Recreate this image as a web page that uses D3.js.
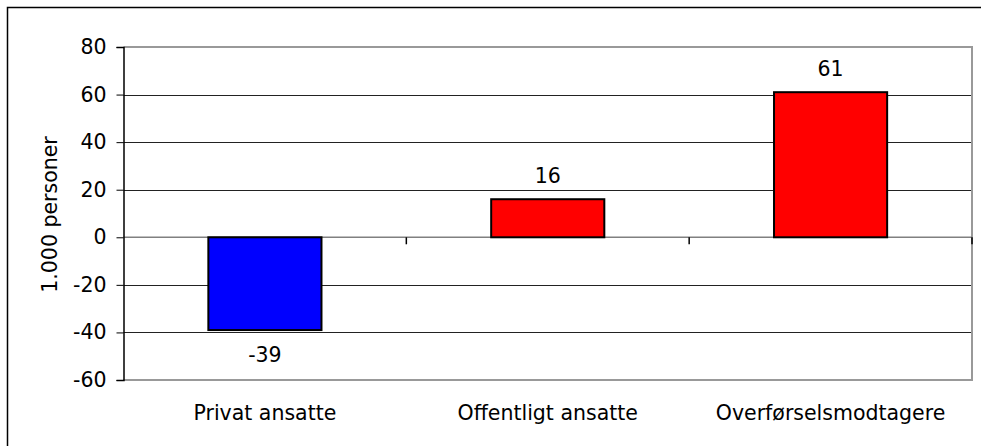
<!DOCTYPE html>
<html>
<head>
<meta charset="utf-8">
<script src="https://cdn.jsdelivr.net/npm/d3@7"></script>
<style>
  html, body { margin: 0; padding: 0; background: #fff; }
  svg { display: block; }
  text { font-family: "DejaVu Sans", Verdana, sans-serif; fill: #000; }
</style>
</head>
<body>
<svg id="chart" width="981" height="446"></svg>
<script>
const categories = ["Privat ansatte", "Offentligt ansatte", "Overførselsmodtagere"];
const values = [-39, 16, 61];
const barColors = ["#0000FF", "#FF0000", "#FF0000"];
const yTicks = [-60, -40, -20, 0, 20, 40, 60, 80];
const yTitle = "1.000 personer";

(function () {
const svg = d3.select("#chart");
const plotLeft = 123.5, plotRight = 972, plotTop = 47, plotBottom = 380;
const fontSize = 20.5;

// outer frame
svg.append("rect")
  .attr("x", 7.5).attr("y", 7.5)
  .attr("width", 1000).attr("height", 1000)
  .attr("fill", "#fff").attr("stroke", "#000").attr("stroke-width", 1.5);

const y = d3.scaleLinear().domain([-60, 80]).range([plotBottom, plotTop]);
const x = d3.scaleBand().domain(categories).range([plotLeft, plotRight])
  .paddingInner(0.6).paddingOuter(0.3);

// gridlines
svg.append("g").selectAll("line")
  .data(yTicks.filter(t => t !== 80 && t !== -60 && t !== 0))
  .join("line")
  .attr("x1", plotLeft).attr("x2", plotRight)
  .attr("y1", d => Math.round(y(d)) + 0.5).attr("y2", d => Math.round(y(d)) + 0.5)
  .attr("stroke", "#222").attr("stroke-width", 1);

// plot frame (grey top, right, bottom)
svg.append("path")
  .attr("d", `M${plotLeft},${y(80)}H${plotRight}V${y(-60)}H${plotLeft}`)
  .attr("fill", "none").attr("stroke", "#999").attr("stroke-width", 2);

// zero line
svg.append("line")
  .attr("x1", plotLeft).attr("x2", plotRight)
  .attr("y1", y(0)).attr("y2", y(0))
  .attr("stroke", "#808080").attr("stroke-width", 1.5);

// bars
svg.append("g").selectAll("rect")
  .data(values)
  .join("rect")
  .attr("x", (d, i) => x(categories[i]))
  .attr("width", x.bandwidth())
  .attr("y", d => y(Math.max(0, d)))
  .attr("height", d => Math.abs(y(d) - y(0)))
  .attr("fill", (d, i) => barColors[i])
  .attr("stroke", "#000").attr("stroke-width", 2);

// y axis
const yAxis = d3.axisLeft(y).tickValues(yTicks).tickSize(7).tickPadding(10)
  .tickFormat(d => String(d));
const ga = svg.append("g").attr("transform", `translate(${plotLeft},0)`).call(yAxis);
ga.select(".domain").attr("stroke", "#000").attr("stroke-width", 1.5);
ga.selectAll(".tick line").attr("stroke", "#000");
ga.selectAll(".tick text")
  .style("font-family", '"DejaVu Sans", Verdana, sans-serif')
  .attr("font-size", fontSize).attr("fill", "#000");

// x axis ticks at category boundaries on zero line
const step = x.step();
const bounds = categories.map(c => x(c) - step * 0.3).concat([plotRight]);
svg.append("g").selectAll("line")
  .data(bounds.slice(1))
  .join("line")
  .attr("x1", d => d).attr("x2", d => d)
  .attr("y1", y(0)).attr("y2", y(0) + 7)
  .attr("stroke", "#000").attr("stroke-width", 1.5);

// category labels
svg.append("g").selectAll("text")
  .data(categories)
  .join("text")
  .attr("x", d => x(d) + x.bandwidth() / 2)
  .attr("y", 420)
  .attr("text-anchor", "middle")
  .attr("font-size", fontSize)
  .text(d => d);

// value labels
svg.append("g").selectAll("text")
  .data(values)
  .join("text")
  .attr("x", (d, i) => x(categories[i]) + x.bandwidth() / 2)
  .attr("y", d => d >= 0 ? y(d) - 16 : y(d) + 32)
  .attr("text-anchor", "middle")
  .attr("font-size", fontSize)
  .text(d => String(d));

// y title
svg.append("text")
  .attr("transform", `translate(57,${(plotTop + plotBottom) / 2 + 1}) rotate(-90)`)
  .attr("text-anchor", "middle")
  .attr("font-size", fontSize)
  .text(yTitle);
})();
</script>
</body>
</html>
